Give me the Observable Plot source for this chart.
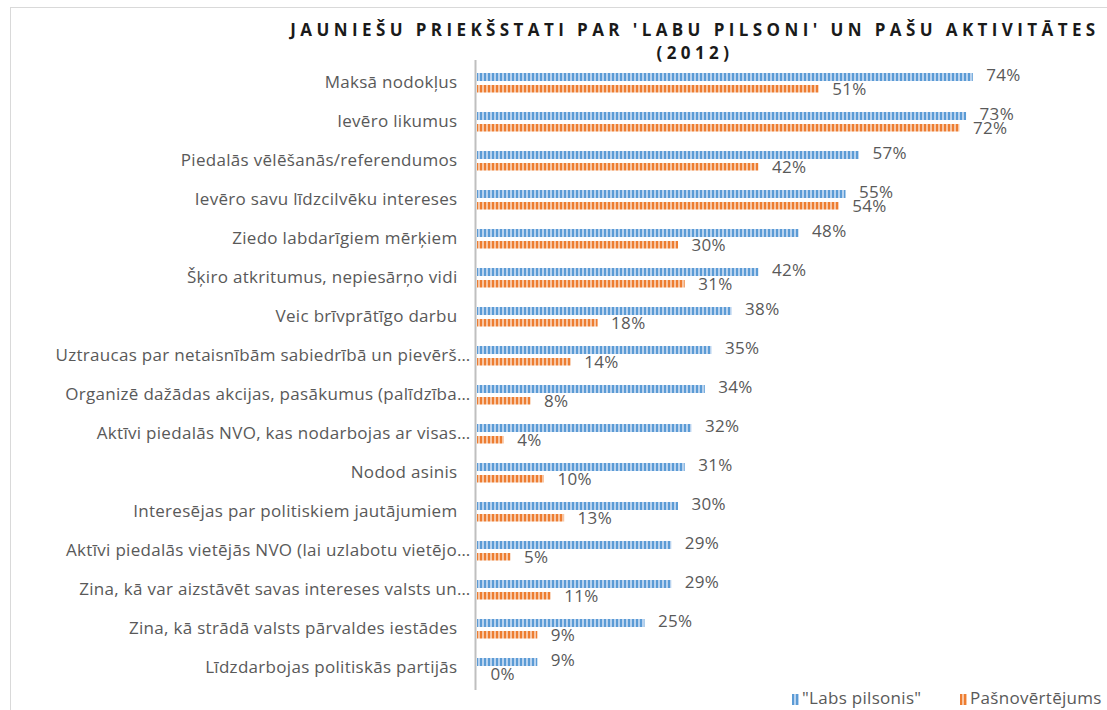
<!DOCTYPE html>
<html>
<head>
<meta charset="utf-8">
<script src="https://cdn.jsdelivr.net/npm/d3@7"></script>
<script src="https://cdn.jsdelivr.net/npm/@observablehq/plot@0.6"></script>
<style>
  body { margin: 0; background: #fff; font-family: "Open Sans", sans-serif; }
  #wrap { position: relative; width: 1107px; height: 710px; overflow: hidden; background: #fff; }
  #frame { position: absolute; left: 10px; top: 7px; width: 1200px; height: 800px; border: 1px solid #d9d9d9; }
  #title { position: relative; height: 60px; }
  #title div { position: absolute; left: 193px; width: 1004px; text-align: center; font-weight: bold; font-size: 17px; letter-spacing: 4.4px; color: #1a1a1a; }
  #chart { position: relative; height: 630px; }
  #legend { position: relative; height: 20px; font-size: 17px; letter-spacing: 0.3px; color: #595959; }
  #legend span.item { position: absolute; top: -4px; white-space: nowrap; }
  #legend svg { vertical-align: -1px; margin-right: 3px; }
</style>
</head>
<body>
<div id="wrap">
  <div id="frame"></div>
  <div id="title">
    <div style="top:18px">JAUNIEŠU PRIEKŠSTATI PAR 'LABU PILSONI' UN PAŠU AKTIVITĀTES</div>
    <div style="top:41px">(2012)</div>
  </div>
  <div id="chart"></div>
  <div id="legend"></div>
</div>
<script>
const categories = [
  "Maksā nodokļus",
  "Ievēro likumus",
  "Piedalās vēlēšanās/referendumos",
  "Ievēro savu līdzcilvēku intereses",
  "Ziedo labdarīgiem mērķiem",
  "Šķiro atkritumus, nepiesārņo vidi",
  "Veic brīvprātīgo darbu",
  "Uztraucas par netaisnībām sabiedrībā un pievērš…",
  "Organizē dažādas akcijas, pasākumus (palīdzība…",
  "Aktīvi piedalās NVO, kas nodarbojas ar visas…",
  "Nodod asinis",
  "Interesējas par politiskiem jautājumiem",
  "Aktīvi piedalās vietējās NVO (lai uzlabotu vietējo…",
  "Zina, kā var aizstāvēt savas intereses valsts un…",
  "Zina, kā strādā valsts pārvaldes iestādes",
  "Līdzdarbojas politiskās partijās"
];
const labsPilsonis = [74, 73, 57, 55, 48, 42, 38, 35, 34, 32, 31, 30, 29, 29, 25, 9];
const pasnovertejums = [51, 72, 42, 54, 30, 31, 18, 14, 8, 4, 10, 13, 5, 11, 9, 0];
const seriesNames = ['"Labs pilsonis"', "Pašnovērtējums"];
const seriesColors = ["#5b9bd5", "#ed7d31"];
const seriesLight = ["#b9d3ef", "#f8c6a4"];

const blueRows = categories.map((c, i) => ({category: c, value: labsPilsonis[i] / 100}));
const orangeRows = categories.map((c, i) => ({category: c, value: pasnovertejums[i] / 100}));
const pct = d => `${Math.round(d.value * 100)}%`;
const fullLabels = categories.filter(c => !c.endsWith("…"));
const cutLabels = categories.filter(c => c.endsWith("…"));

const chart = Plot.plot({
  width: 1107,
  height: 630,
  marginLeft: 477,
  marginRight: 94,
  marginTop: 0,
  marginBottom: 0,
  style: {fontFamily: '"Open Sans", sans-serif', fontSize: "17px", letterSpacing: "0.3px", color: "#595959", background: "transparent", overflow: "visible"},
  x: {domain: [0, 0.8], axis: null},
  y: {domain: categories, padding: 0, axis: null},
  marks: [
    Plot.barX(blueRows, {x: "value", y: "category", fill: "url(#stripeBlue)", insetTop: 10, insetBottom: 21}),
    Plot.barX(orangeRows, {x: "value", y: "category", fill: "url(#stripeOrange)", insetTop: 22, insetBottom: 9.5}),
    Plot.text(blueRows, {x: "value", y: "category", text: pct, dx: 13, dy: -7, textAnchor: "start", fill: "#595959", fontSize: 17}),
    Plot.text(orangeRows, {x: "value", y: "category", text: pct, dx: 13, dy: 7, textAnchor: "start", fill: "#595959", fontSize: 17}),
    Plot.text(fullLabels, {y: d => d, text: d => d, frameAnchor: "left", dx: -20, textAnchor: "end", fill: "#595959", fontSize: 17}),
    Plot.text(cutLabels, {y: d => d, text: d => d, frameAnchor: "left", dx: -7, textAnchor: "end", fill: "#595959", fontSize: 17}),
    Plot.ruleX([0], {stroke: "#bfbfbf", strokeWidth: 2, dx: -2})
  ]
});

const ns = "http://www.w3.org/2000/svg";
const defs = document.createElementNS(ns, "defs");
function addPattern(id, light, dark) {
  const p = document.createElementNS(ns, "pattern");
  p.setAttribute("id", id);
  p.setAttribute("patternUnits", "userSpaceOnUse");
  p.setAttribute("width", "4");
  p.setAttribute("height", "4");
  const r1 = document.createElementNS(ns, "rect");
  r1.setAttribute("width", "4"); r1.setAttribute("height", "4"); r1.setAttribute("fill", light);
  const r2 = document.createElementNS(ns, "rect");
  r2.setAttribute("width", "2"); r2.setAttribute("height", "4"); r2.setAttribute("fill", dark);
  p.appendChild(r1); p.appendChild(r2);
  defs.appendChild(p);
}
addPattern("stripeBlue", seriesLight[0], seriesColors[0]);
addPattern("stripeOrange", seriesLight[1], seriesColors[1]);
chart.insertBefore(defs, chart.firstChild);
document.getElementById("chart").appendChild(chart);

const legend = document.getElementById("legend");
const legendX = [792, 960];
seriesNames.forEach((name, i) => {
  const span = document.createElement("span");
  span.className = "item";
  span.style.left = legendX[i] + "px";
  span.innerHTML = `<svg width="7" height="11"><rect width="7" height="11" fill="${seriesLight[i]}"/><rect x="0" width="2" height="11" fill="${seriesColors[i]}"/><rect x="4" width="2" height="11" fill="${seriesColors[i]}"/></svg>`;
  span.appendChild(document.createTextNode(name));
  legend.appendChild(span);
});
</script>
</body>
</html>
